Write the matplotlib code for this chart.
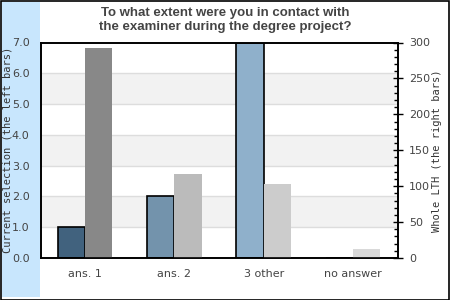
import matplotlib
matplotlib.use("Agg")
import matplotlib.pyplot as plt
from matplotlib.patches import Rectangle
import numpy as np

categories = ["ans. 1", "ans. 2", "3 other", "no answer"]
current_sel = [1, 2, 7, 0]
whole_lth = [293, 117, 103, 12]
left_colors = ["#41627e", "#7393ac", "#8fb0cb", "#a8c4da"]
right_colors = ["#888888", "#bbbbbb", "#cccccc", "#d9d9d9"]
left_ticks = [0, 1, 2, 3, 4, 5, 6, 7]
right_ticks = [0, 50, 100, 150, 200, 250, 300]

W, H = 450, 300
fig = plt.figure(figsize=(W / 100, H / 100), dpi=100)
fig.patch.set_facecolor("white")

# figure border and blue side band
fig.patches.append(Rectangle((0.5 / W, 0.5 / H), (W - 1.5) / W, (H - 1.5) / H,
                             transform=fig.transFigure, fill=False,
                             edgecolor="black", linewidth=1.2, zorder=-2))
fig.patches.append(Rectangle((2 / W, 3 / H), 38 / W, (H - 5) / H,
                             transform=fig.transFigure, facecolor="#c8e6fd",
                             edgecolor="none", zorder=-2))

x0, x1, ytop, ybot = 40.5, 397.5, 42.5, 258
ax = fig.add_axes([x0 / W, (H - ybot) / H, (x1 - x0) / W, (ybot - ytop) / H])
ax.set_facecolor("white")
ax.set_xlim(-0.5, len(categories) - 0.5)
ax.set_ylim(0, 7)

# alternating bands and grid
for i in range(7):
    if i % 2 == 1:
        ax.axhspan(i, i + 1, facecolor="#f2f2f2", edgecolor="none", zorder=0)
for t in left_ticks[1:-1]:
    ax.axhline(t, color="#dddddd", linewidth=1, zorder=0.5)

x = np.arange(len(categories))
bw = 0.305
ax.bar(x - bw / 2, current_sel, width=bw, color=left_colors,
       edgecolor="black", linewidth=1.2, zorder=2)

ax2 = ax.twinx()
ax2.set_ylim(0, 300)
ax2.bar(x + bw / 2, whole_lth, width=bw, color=right_colors,
        edgecolor="none", zorder=2)

ax.set_xticks(x)
ax.set_xticklabels(categories)
ax.set_yticks(left_ticks)
ax.set_yticklabels([f"{t:.1f}" for t in left_ticks])
ax.tick_params(axis="x", length=0, pad=8, labelsize=8, labelcolor="#444444")
ax.tick_params(axis="y", length=0, pad=8, labelsize=8, labelcolor="#444444")

ax2.set_yticks(right_ticks)
ax2.set_yticks(np.arange(0, 301, 10), minor=True)
ax2.tick_params(axis="y", which="major", direction="inout", length=7, width=1,
                pad=5, labelsize=8, labelcolor="#444444")
ax2.tick_params(axis="y", which="minor", direction="in", length=3, width=1)

for a in (ax, ax2):
    for s in a.spines.values():
        s.set_color("black")
        s.set_linewidth(1.2)

ax.set_ylabel("Current selection (the left bars)", family="DejaVu Sans Mono",
              fontsize=7.5, color="#333333")
ax.yaxis.set_label_coords(-(x0 - 13) / (x1 - x0), 0.5)
ax2.set_ylabel("Whole LTH (the right bars)", family="DejaVu Sans Mono",
               fontsize=7.5, color="#333333")
ax2.yaxis.set_label_coords((432 - x0) / (x1 - x0), 0.5)

fig.text(225 / W, 1 - 20 / H,
         "To what extent were you in contact with\nthe examiner during the degree project?",
         ha="center", va="center", fontsize=9.5, fontweight="bold",
         family="Liberation Sans", color="#444444", linespacing=1.3)

fig.savefig("out.png", dpi=100)
